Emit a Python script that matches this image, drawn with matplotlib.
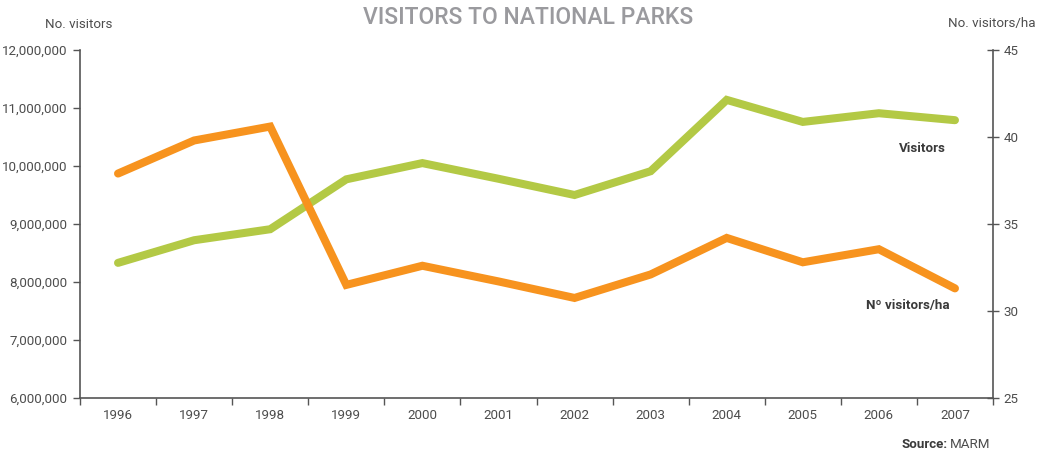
import numpy as np
import matplotlib.pyplot as plt
from matplotlib.ticker import FuncFormatter

plt.rcParams['font.family'] = ['Roboto', 'DejaVu Sans']

# data
years = ['1996', '1997', '1998', '1999', '2000', '2001',
         '2002', '2003', '2004', '2005', '2006', '2007']
visitors = [8330000, 8720000, 8910000, 9770000, 10050000, 9780000,
            9500000, 9910000, 11140000, 10760000, 10910000, 10790000]
visitors_ha = [37.9, 39.8, 40.6, 31.5, 32.6, 31.7,
               30.75, 32.1, 34.2, 32.8, 33.55, 31.3]

green = '#b3c945'
orange = '#f7931e'
axcol = '#555555'
txtcol = '#4d4d4d'
fs = 9.6

fig = plt.figure(figsize=(10.46, 4.53), dpi=100)
ax = fig.add_axes([80/1046, 1-398/453, 913/1046, 348/453])
ax2 = ax.twinx()

x = np.arange(len(years))
ax.plot(x, visitors, color=green, lw=5.8, solid_capstyle='round', solid_joinstyle='miter', zorder=3)
ax2.plot(x, visitors_ha, color=orange, lw=5.8, solid_capstyle='round', solid_joinstyle='miter', zorder=3)

ax.set_xlim(-0.5, len(years) - 0.5)
ax.set_ylim(6000000, 12000000)
ax.set_yticks(np.arange(6000000, 12000001, 1000000))
ax.yaxis.set_major_formatter(FuncFormatter(lambda v, p: '{:,.0f}'.format(v)))
ax2.set_ylim(25, 45)
ax2.set_yticks([25, 30, 35, 40, 45])

# year labels in the middle, ticks on the boundaries
ax.set_xticks(np.arange(-0.5, len(years), 1.0))
ax.set_xticklabels([])
ax.set_xticks(x, minor=True)
ax.set_xticklabels(years, minor=True)
ax.tick_params(axis='x', which='minor', length=0, pad=8, labelsize=fs, labelcolor=txtcol)
ax.tick_params(axis='x', which='major', length=5, width=1, color=axcol)
ax.tick_params(axis='y', length=5, width=1, color=axcol, labelsize=fs, labelcolor=txtcol, pad=4)
ax2.tick_params(axis='y', direction='inout', length=9, width=1, color=axcol,
                labelsize=fs, labelcolor=txtcol, pad=3)

for a in (ax, ax2):
    a.spines['top'].set_visible(False)
    for s in ('left', 'bottom', 'right'):
        a.spines[s].set_color(axcol)
        a.spines[s].set_linewidth(1.2)
ax2.spines['left'].set_visible(False)
ax2.spines['bottom'].set_visible(False)
ax.spines['right'].set_visible(False)

fig.text(0.505, 1-17/453, 'VISITORS TO NATIONAL PARKS', ha='center', va='center',
         fontsize=16.5, color='#9a9a9e', fontweight='medium')
fig.text(45/1046, 1-24/453, 'No. visitors', ha='left', va='center', fontsize=fs, color=txtcol)
fig.text(1036/1046, 1-24/453, 'No. visitors/ha', ha='right', va='center', fontsize=fs, color=txtcol)
fig.text(946/1046, 1-148/453, 'Visitors', ha='right', va='center', fontsize=fs,
         color='#3a3a3a', fontweight='bold')
fig.text(950/1046, 1-306/453, 'Nº visitors/ha', ha='right', va='center', fontsize=fs,
         color='#3a3a3a', fontweight='bold')
t = fig.text(990/1046, 1-444/453, 'MARM', ha='right', va='center', fontsize=fs, color=txtcol)
fig.canvas.draw()
bb = t.get_window_extent()
fig.text(bb.x0 / 1046 - 0.002, 1-444/453, 'Source:', ha='right', va='center', fontsize=fs,
         color='#3a3a3a', fontweight='bold')

fig.savefig('out.png', dpi=100)
